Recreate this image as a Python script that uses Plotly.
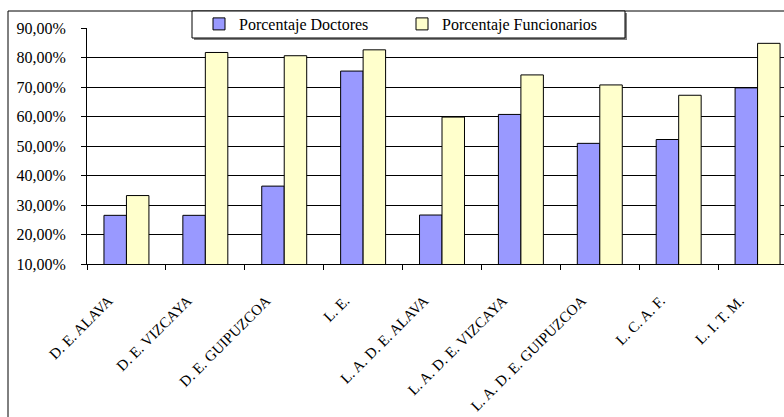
import plotly.graph_objects as go

categories = ["D. E. ALAVA", "D. E. VIZCAYA", "D. E. GUIPUZCOA", "L. E.",
              "L. A. D. E. ALAVA", "L. A. D. E. VIZCAYA", "L. A. D. E. GUIPUZCOA",
              "L. C. A. F.", "L. I. T. M."]
doctores = [26.5, 26.5, 36.4, 75.4, 26.6, 60.7, 50.9, 52.2, 69.7]
funcionarios = [33.2, 81.7, 80.6, 82.6, 59.8, 74.1, 70.7, 67.2, 84.8]
y_tick_vals = [10, 20, 30, 40, 50, 60, 70, 80, 90]
y_tick_text = ["10,00%", "20,00%", "30,00%", "40,00%", "50,00%",
               "60,00%", "70,00%", "80,00%", "90,00%"]

W, H = 784, 417
ML, MR, MT, MB = 87, 0, 28, 153
PW = W - ML - MR
PH = H - MT - MB


def px_x(p):
    return (p - ML) / PW


def px_y(p):
    return 1 - (p - MT) / PH


SERIF = "Liberation Serif"

fig = go.Figure()
fig.add_trace(go.Bar(name="Porcentaje Doctores", x=categories, y=doctores,
                     marker=dict(color="#9999FF", line=dict(color="black", width=1))))
fig.add_trace(go.Bar(name="Porcentaje Funcionarios", x=categories, y=funcionarios,
                     marker=dict(color="#FFFFCC", line=dict(color="black", width=1))))

fig.update_layout(
    width=W, height=H,
    margin=dict(l=ML, r=MR, t=MT, b=MB, pad=0, autoexpand=False),
    paper_bgcolor="white",
    plot_bgcolor="rgba(0,0,0,0)",
    barmode="group", bargap=0.43, bargroupgap=0,
    font=dict(family=SERIF, color="black"),
    showlegend=True,
    legend=dict(orientation="h", x=px_x(199), xanchor="left", y=px_y(24), yanchor="middle",
                bgcolor="rgba(0,0,0,0)", borderwidth=0,
                font=dict(family=SERIF, size=16, color="black"),
                entrywidth=158, entrywidthmode="pixels", indentation=0,
                traceorder="normal"),
    xaxis=dict(type="category", range=[-0.5, 8.335], showgrid=False,
               showline=True, linecolor="black", linewidth=1,
               ticks="outside", ticklen=5, tickcolor="black", tickwidth=1,
               tickson="boundaries", tickangle=-45,
               tickfont=dict(family=SERIF, size=15, color="black"),
               ticklabelstandoff=21, ticklabelshift=-18),
    yaxis=dict(range=[10, 90], tickvals=y_tick_vals, ticktext=y_tick_text,
               showgrid=True, gridcolor="black", gridwidth=1, zeroline=False,
               showline=True, linecolor="black", linewidth=1,
               ticks="outside", ticklen=5, tickcolor="black", tickwidth=1,
               tickfont=dict(family=SERIF, size=16, color="black"),
               ticklabelstandoff=12),
    shapes=[
        # outer chart frame
        dict(type="rect", xref="paper", yref="paper",
             x0=px_x(8), x1=px_x(W + 20), y0=px_y(H + 20), y1=px_y(11),
             line=dict(color="black", width=1), fillcolor="rgba(0,0,0,0)", layer="below"),
        # legend shadow
        dict(type="rect", xref="paper", yref="paper",
             x0=px_x(194), x1=px_x(627), y0=px_y(40), y1=px_y(13),
             line=dict(width=0), fillcolor="#808080", layer="above"),
        # legend box
        dict(type="rect", xref="paper", yref="paper",
             x0=px_x(192), x1=px_x(625), y0=px_y(38), y1=px_y(11),
             line=dict(color="black", width=1), fillcolor="white", layer="above"),
    ],
)

fig.write_html("out.html", config={"displayModeBar": False},
               post_script="document.body.style.margin='0';")
